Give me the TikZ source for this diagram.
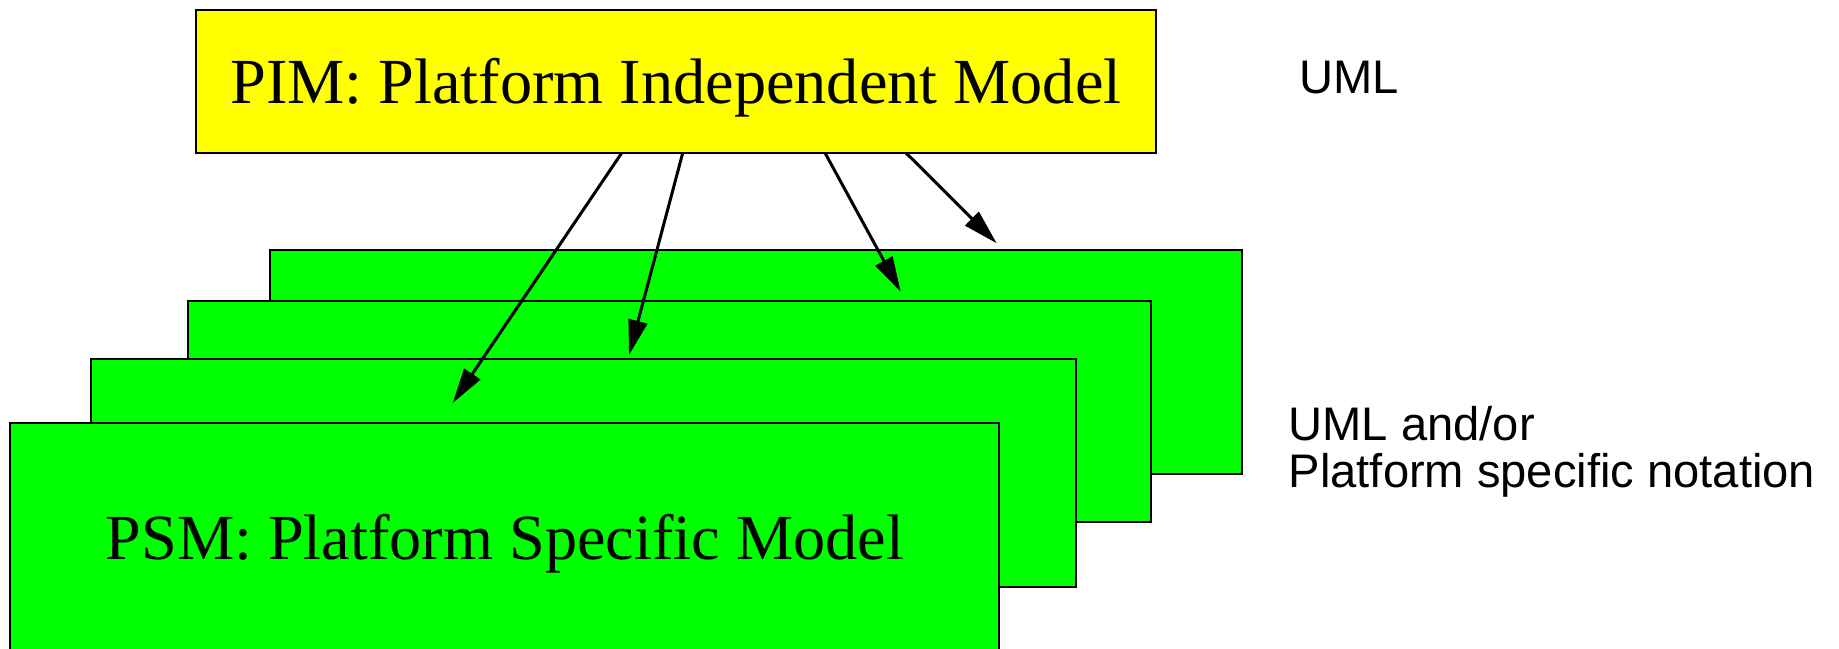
\documentclass[tikz,border=0pt]{standalone}
\usepackage{fontspec}
\setmainfont{Liberation Serif}
\newfontfamily\labelfont{Liberation Sans}
\usetikzlibrary{arrows.meta}
\definecolor{pimyellow}{RGB}{255,255,0}
\definecolor{psmgreen}{RGB}{0,255,0}
\begin{document}
\begin{tikzpicture}[x=0.01cm,y=-0.01cm,
  modelbox/.style={draw=black, line width=0.022cm, rectangle, inner sep=0pt, outer sep=0pt,
    font=\fontsize{18.28pt}{20pt}\selectfont, text height=0.44cm, text depth=0pt},
  pimbox/.style={modelbox, fill=pimyellow, minimum width=9.60cm, minimum height=1.43cm},
  psmbox/.style={modelbox, fill=psmgreen},
  mapping/.style={line width=0.03cm, -{Triangle[length=0.35cm,width=0.19cm]}},
  sidelabel/.style={font=\labelfont\fontsize{13.4pt}{13.38pt}\selectfont, inner sep=0pt, align=left}
]
\useasboundingbox (0,0) rectangle (1839,649);
% stacked platform specific models, back to front
\node[psmbox, minimum width=9.717cm, minimum height=2.24cm] (psm4) at (755.85,362) {};
\node[psmbox, minimum width=9.63cm, minimum height=2.213cm] (psm3) at (669.5,411.35) {};
\node[psmbox, minimum width=9.85cm, minimum height=2.277cm] (psm2) at (583.5,472.85) {};
\node[psmbox, minimum width=9.885cm, minimum height=2.293cm] (psm1) at (504.75,537.35) {PSM: Platform Specific Model};
% platform independent model
\node[pimbox] (pim) at (676,81.5) {PIM: Platform Independent Model};
% arrow end points inside the stacked models
\coordinate (t1) at (452.7,403);
\coordinate (t2) at (629,355);
\coordinate (t3) at (900.7,291.7);
\coordinate (t4) at (996.7,243.3);
\draw[mapping] ([xshift=-0.543cm]pim.south) -- (t1);
\draw[mapping] ([xshift=0.067cm]pim.south) -- (t2);
\draw[mapping] ([xshift=1.49cm]pim.south) -- (t3);
\draw[mapping] ([xshift=2.30cm]pim.south) -- (t4);
% side labels
\node[sidelabel, anchor=base west] (uml) at (1299,94) {UML};
\node[sidelabel, anchor=base west] (notation) at (1288,488) {UML and/or\\Platform specific notation};
\end{tikzpicture}
\end{document}
